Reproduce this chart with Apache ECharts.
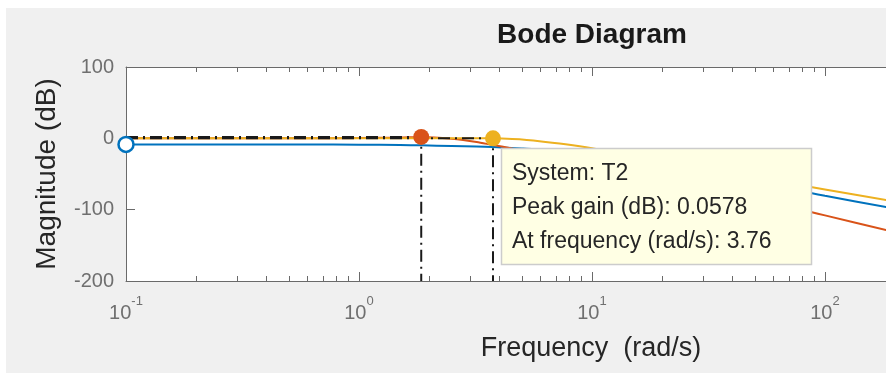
<!DOCTYPE html>
<html>
<head>
<meta charset="utf-8">
<script src="https://cdn.jsdelivr.net/npm/echarts@6/dist/echarts.min.js"></script>
<style>
html, body { margin: 0; padding: 0; background: #fff; }
#main { width: 886px; height: 373px; }
</style>
</head>
<body>
<div id="main"></div>
<script>
// frequencies (rad/s) and magnitudes (dB)
var freqData = [0.1, 0.3, 0.6, 1, 1.5, 1.85, 2.5, 3.2, 3.76, 4.1, 5, 5.6, 7.7, 10, 20, 50, 87, 100, 183, 200];
var blueMag   = [-8.5, -8.5, -8.7, -8.9, -9.4, -9.8, -10.7, -11.6, -12.2, -12.7, -14.2, -15.2, -19.5, -24, -40, -62, -76.7, -80.5, -96.4, -98.8];
var redMag    = [0, 0.02, 0.1, 0.4, 1.2, 2.0, -0.5, -5, -9.5, -11.5, -17, -20, -30, -38, -61, -85, -103.4, -108, -128.6, -131.5];
var yellowMag = [0, 0, 0.005, 0.01, 0.02, 0.025, 0.04, 0.055, 0.0578, -0.4, -1.5, -3.0, -8.4, -14, -32, -54, -68.3, -71.7, -86.5, -88.8];

var peakFreq = [0.1, 1.85, 3.76];
var peakGain = [-8.5, 2.0, 0.0578];
var sysNames = ['T', 'T1', 'T2'];
var sysColors = ['#0072BD', '#D95319', '#EDB120'];

var yTicks = [-200, -100, 0, 100];
// x axis in log10(rad/s); the picture is cut off a bit past 10^2
var xMin = -1, xMax = 2.262;

var axisColor = '#6a6a6a';
var labelColor = '#6f6f6f';
var font = 'Liberation Sans';

var minorTicks = [];
for (var d = -1; d < 3; d++) {
    for (var k = 2; k <= 9; k++) {
        var v = Math.log10(k) + d;
        if (v < xMax) minorTicks.push([v, 0]);
    }
}

function toPts(mags) {
    return freqData.map(function (f, i) { return [Math.log10(f), mags[i]]; });
}

var dom = document.getElementById('main');
var chart = echarts.init(dom, null, { renderer: 'canvas' });

var series = [];
var mags = [blueMag, redMag, yellowMag];
mags.forEach(function (m, i) {
    series.push({
        name: sysNames[i],
        type: 'line',
        data: toPts(m),
        showSymbol: false,
        smooth: 0.25,
        lineStyle: { color: sysColors[i], width: 2 },
        z: 2,
        silent: true
    });
});

// peak response guide lines (dash-dot)
peakFreq.forEach(function (f, i) {
    if (f <= freqData[0]) return;
    var lf = Math.log10(f);
    series.push({
        type: 'line',
        data: [[xMin, peakGain[i]], [lf, peakGain[i]], [lf, yTicks[0]]],
        showSymbol: false,
        lineStyle: { color: '#1a1a1a', width: 2, type: [12, 5, 2, 5] },
        z: 3,
        silent: true
    });
});

// peak markers
peakFreq.forEach(function (f, i) {
    series.push({
        type: 'scatter',
        data: [[Math.log10(f), peakGain[i]]],
        symbol: 'circle',
        symbolSize: i === 0 ? 15 : 16,
        itemStyle: i === 0
            ? { color: '#ffffff', borderColor: sysColors[i], borderWidth: 2.5, opacity: 1 }
            : { color: sysColors[i], opacity: 1 },
        clip: false,
        z: 4,
        silent: true
    });
});

// log minor ticks on bottom and top
series.push({
    type: 'custom',
    data: minorTicks,
    clip: false,
    silent: true,
    z: 5,
    renderItem: function (params, api) {
        var x = Math.round(api.coord([api.value(0), 0])[0]) + 0.5;
        var cs = params.coordSys;
        var yb = cs.y + cs.height, yt = cs.y;
        return {
            type: 'group',
            children: [
                { type: 'line', shape: { x1: x, y1: yb, x2: x, y2: yb - 5 }, style: { stroke: axisColor, lineWidth: 1 } },
                { type: 'line', shape: { x1: x, y1: yt, x2: x, y2: yt + 5 }, style: { stroke: axisColor, lineWidth: 1 } }
            ]
        };
    }
});

function decadeLabel(v) {
    if (Math.abs(v - Math.round(v)) > 1e-6) return '';
    return '{b|10}{s|' + Math.round(v) + '}';
}

var option = {
    backgroundColor: '#ffffff',
    animation: false,
    title: {
        text: 'Bode Diagram',
        left: 587,
        top: 16,
        textAlign: 'center',
        textStyle: { fontFamily: font, fontSize: 28, fontWeight: 'bold', color: '#1a1a1a' }
    },
    graphic: [
        {
            type: 'rect', z: -10, silent: true,
            shape: { x: 6, y: 8, width: 880, height: 365 },
            style: { fill: '#f0f0f0' }
        },
        {
            type: 'rect', z: 100, silent: true,
            shape: { x: 501.5, y: 148.5, width: 310, height: 116 },
            style: { fill: '#ffffe4', stroke: '#cccccc', lineWidth: 1.5 }
        },
        {
            type: 'text', z: 101, silent: true,
            x: 512, y: 157,
            style: {
                text: 'System: ' + sysNames[2] + '\nPeak gain (dB): ' + peakGain[2] + '\nAt frequency (rad/s): ' + peakFreq[2],
                fill: '#262626',
                font: '23px "Liberation Sans"',
                lineHeight: 34,
                verticalAlign: 'top'
            }
        }
    ],
    grid: {
        left: 126,
        top: 67,
        right: 0,
        bottom: 92,
        show: true,
        backgroundColor: '#ffffff',
        borderWidth: 0
    },
    xAxis: [
        {
            type: 'value',
            min: xMin,
            max: xMax,
            interval: 1,
            position: 'bottom',
            name: 'Frequency  (rad/s)',
            nameLocation: 'middle',
            nameGap: 54,
            nameTextStyle: { fontFamily: font, fontSize: 27, color: '#262626', padding: [0, 0, 0, 170] },
            axisLine: { onZero: false, lineStyle: { color: axisColor, width: 1 } },
            axisTick: { inside: true, length: 9, lineStyle: { color: axisColor } },
            splitLine: { show: false },
            axisLabel: {
                margin: 14,
                showMaxLabel: false,
                formatter: decadeLabel,
                rich: {
                    b: { fontFamily: font, fontSize: 20, color: labelColor, lineHeight: 28, verticalAlign: 'bottom' },
                    s: { fontFamily: font, fontSize: 13, color: labelColor, lineHeight: 14, verticalAlign: 'top' }
                }
            }
        },
        {
            type: 'value',
            min: xMin,
            max: xMax,
            interval: 1,
            position: 'top',
            axisLine: { onZero: false, lineStyle: { color: axisColor, width: 1 } },
            axisTick: { inside: true, length: 9, lineStyle: { color: axisColor } },
            axisLabel: { show: false },
            splitLine: { show: false }
        }
    ],
    yAxis: {
        type: 'value',
        min: yTicks[0],
        max: yTicks[yTicks.length - 1],
        interval: 100,
        name: 'Magnitude (dB)',
        nameLocation: 'middle',
        nameGap: 65,
        nameTextStyle: { fontFamily: font, fontSize: 28, color: '#262626' },
        axisLine: { show: true, onZero: false, lineStyle: { color: axisColor, width: 1 } },
        axisTick: { show: true, inside: true, length: 9, lineStyle: { color: axisColor } },
        splitLine: { show: false },
        axisLabel: { margin: 12, fontFamily: font, fontSize: 20, color: labelColor }
    },
    series: series
};

chart.setOption(option);
</script>
</body>
</html>
